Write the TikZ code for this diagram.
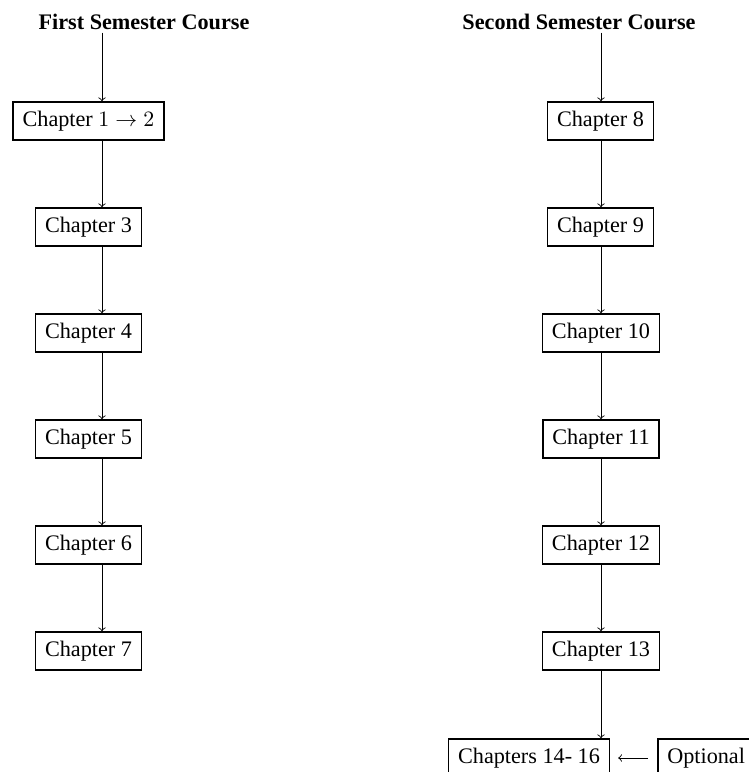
\documentclass[tikz,border=0pt]{standalone}
\usepackage[no-math]{fontspec}
\setmainfont{Liberation Serif}
\begin{document}
\begin{tikzpicture}[x=0.5pt,y=-0.5pt,
  chap/.style={draw, line width=0.8pt, inner xsep=4.75pt, inner ysep=0pt,
    minimum height=19pt, font=\fontsize{11.1}{13}\selectfont},
  ttl/.style={font=\fontsize{11.1}{13}\selectfont\bfseries, inner sep=0pt, anchor=base},
  conn/.style={->, >=to, line width=0.45pt}]
\useasboundingbox (0,0) rectangle (749,772);
\clip (0,0) rectangle (749,772);
% titles
\node[ttl] (t1) at (144,29) {First Semester Course};
\node[ttl] (t2) at (579,29) {Second Semester Course};
% axes of the arrows
\coordinate (axL) at (102,0);
\coordinate (axR) at (601,0);
% first semester
\node[chap] (c12) at (88.5,121) {Chapter $1 \to 2$};
\node[chap] (c3) at (88.5,227) {Chapter 3};
\node[chap] (c4) at (88.5,333) {Chapter 4};
\node[chap] (c5) at (88.5,439) {Chapter 5};
\node[chap] (c6) at (88.5,545) {Chapter 6};
\node[chap] (c7) at (88.5,651) {Chapter 7};
% second semester
\node[chap] (c8) at (600.5,121) {Chapter 8};
\node[chap] (c9) at (600.5,227) {Chapter 9};
\node[chap] (c10) at (601,333) {Chapter 10};
\node[chap] (c11) at (601,439) {Chapter 11};
\node[chap] (c12b) at (601,545) {Chapter 12};
\node[chap] (c13) at (601,651) {Chapter 13};
\node[chap] (c1416) at (529,758) {Chapters 14- 16};
\node[chap, anchor=west] (opt) at (657,758) {Optional};
% connectors
\draw[conn, shorten <=1.5pt] (t1.south -| axL) -- (c12.north -| axL);
\draw[conn] (c12.south -| axL) -- (c3.north -| axL);
\draw[conn] (c3.south -| axL) -- (c4.north -| axL);
\draw[conn] (c4.south -| axL) -- (c5.north -| axL);
\draw[conn] (c5.south -| axL) -- (c6.north -| axL);
\draw[conn] (c6.south -| axL) -- (c7.north -| axL);
\draw[conn, shorten <=1.5pt] (t2.south -| axR) -- (c8.north -| axR);
\draw[conn] (c8.south -| axR) -- (c9.north -| axR);
\draw[conn] (c9.south -| axR) -- (c10.north -| axR);
\draw[conn] (c10.south -| axR) -- (c11.north -| axR);
\draw[conn] (c11.south -| axR) -- (c12b.north -| axR);
\draw[conn] (c12b.south -| axR) -- (c13.north -| axR);
\draw[conn] (c13.south -| axR) -- (c1416.north -| axR);
\draw[conn, shorten <=4.5pt, shorten >=4pt] (opt.west) -- (c1416.east);
\end{tikzpicture}
\end{document}
